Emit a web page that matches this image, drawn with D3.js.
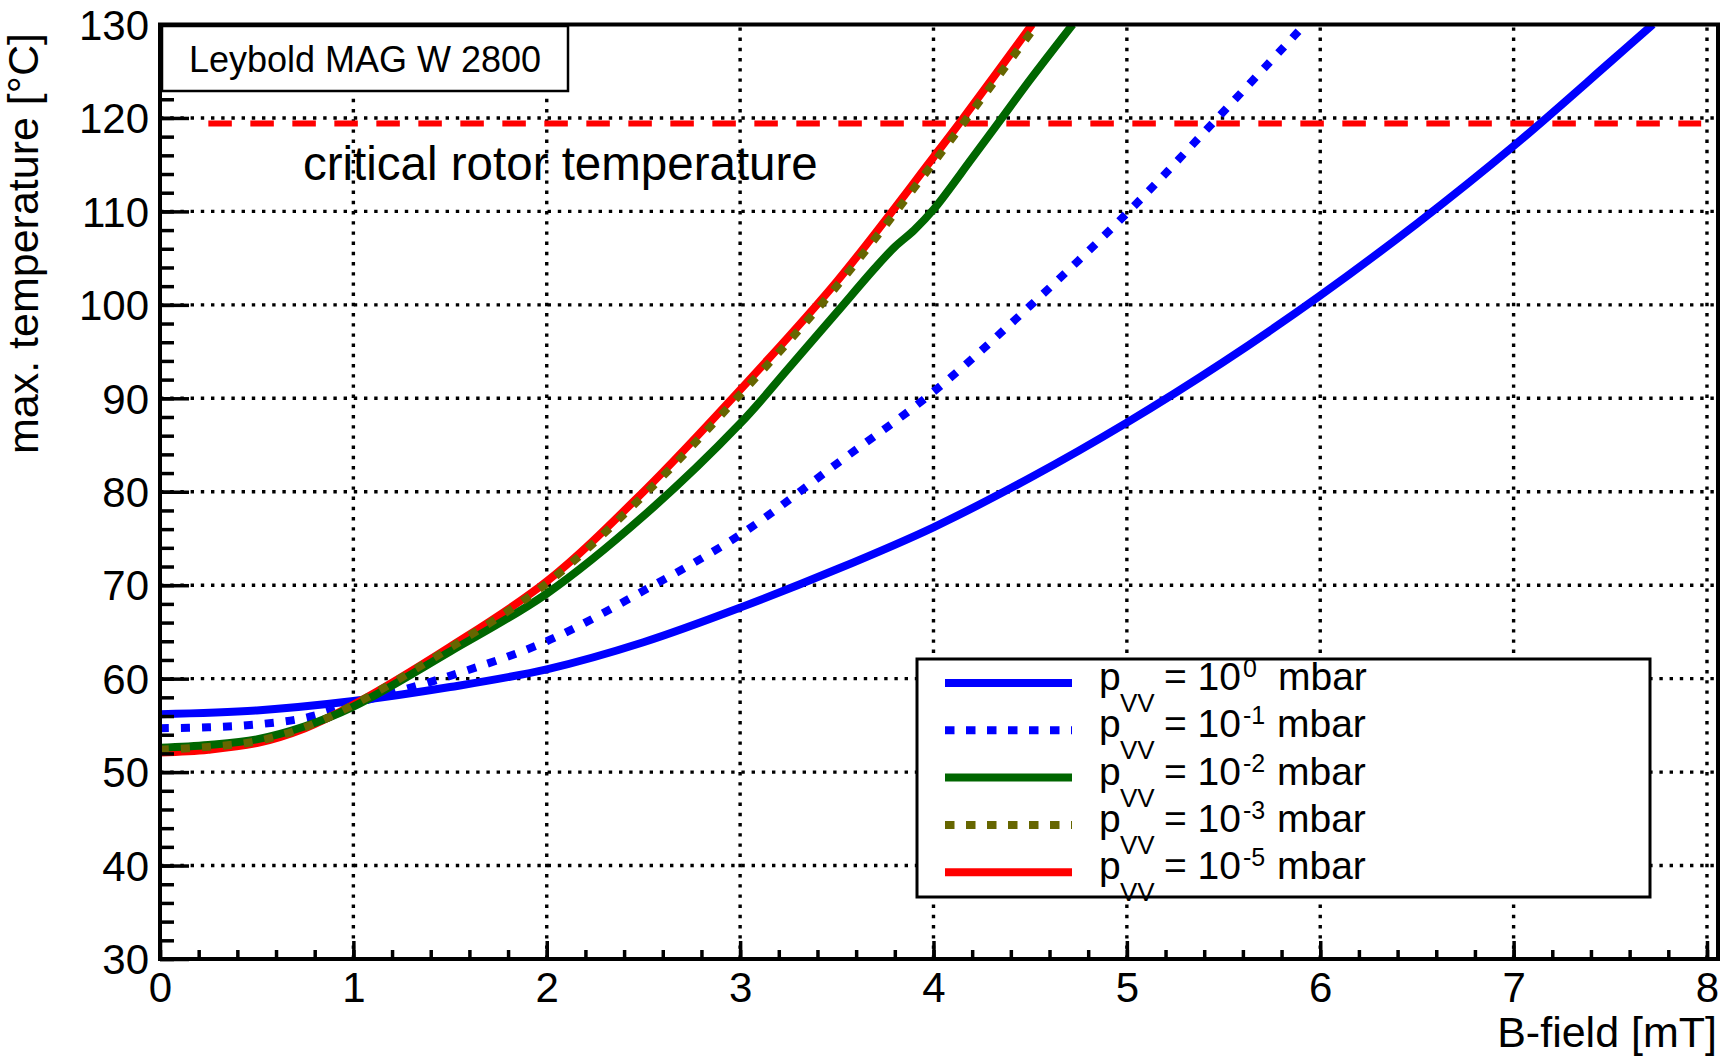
<!DOCTYPE html>
<html>
<head>
<meta charset="utf-8">
<script src="https://cdn.jsdelivr.net/npm/d3@7"></script>
<style>
  body { margin: 0; background: #fff; }
  svg text { font-family: "Liberation Sans", Arial, Helvetica, sans-serif; fill: #000; }
</style>
</head>
<body>
<svg id="chart" width="1732" height="1057"></svg>
<script>
// B-field [mT] and max. temperature [°C], one pair of arrays per pressure
const bField0 = [0, 0.5, 1, 1.5, 2, 2.5, 3, 3.5, 4, 4.5, 5, 5.5, 6, 6.5, 7, 7.5, 7.72];
const temp0   = [56.2, 56.6, 57.6, 59.1, 61.0, 63.9, 67.6, 71.7, 76.2, 81.5, 87.4, 93.9, 101.0, 108.7, 117.0, 126.0, 130];

const bField1 = [0, 0.25, 0.5, 0.75, 1, 1.5, 2, 2.5, 3, 3.5, 4, 4.5, 5, 5.46, 5.92];
const temp1   = [54.7, 54.8, 55.1, 55.8, 57.3, 60.3, 64.0, 69.4, 75.4, 83.0, 90.7, 99.9, 109.8, 119.8, 130];

const bField2 = [0, 0.25, 0.5, 0.75, 1, 1.5, 2, 2.5, 3, 3.25, 3.5, 3.7, 3.8, 3.9, 4, 4.2, 4.34, 4.5, 4.72];
const temp2   = [52.6, 52.9, 53.5, 54.9, 57.0, 62.9, 69.1, 77.4, 87.3, 93.2, 99.2, 104.0, 106.2, 108.0, 110.2, 115.7, 119.6, 124.1, 130];

const bField3 = [0, 0.25, 0.5, 0.75, 1, 1.5, 2, 2.5, 3, 3.5, 4, 4.16, 4.52];
const temp3   = [52.4, 52.7, 53.3, 54.8, 57.2, 63.3, 70.2, 79.6, 90.4, 102.0, 115.2, 119.6, 129.6];

const bField5 = [0, 0.25, 0.5, 0.75, 1, 1.5, 2, 2.5, 3, 3.5, 4, 4.14, 4.51];
const temp5   = [52.1, 52.4, 53.1, 54.7, 57.2, 63.4, 70.4, 80.0, 90.9, 102.5, 115.8, 119.6, 130];

const exponents = ["0", "-1", "-2", "-3", "-5"];
const colors = ["#0000ff", "#0000ff", "#006600", "#666600", "#ff0000"];
const dotted = [false, true, false, true, false];

const criticalB = [0.25, 7.97];
const criticalT = 119.4;

const xTicks = [0, 1, 2, 3, 4, 5, 6, 7, 8];
const yTicks = [30, 40, 50, 60, 70, 80, 90, 100, 110, 120, 130];

const series = [
  { b: bField0, t: temp0, i: 0 },
  { b: bField1, t: temp1, i: 1 },
  { b: bField5, t: temp5, i: 4 },
  { b: bField2, t: temp2, i: 2 },
  { b: bField3, t: temp3, i: 3 }
];

const L = 160, R = 1718, T = 24.5, B = 959;

const svg = d3.select('#chart');

const x = d3.scaleLinear().domain([0, 8.057]).range([L, R]);
const y = d3.scaleLinear().domain([30, 130]).range([B, T]);

svg.append('defs').append('clipPath').attr('id', 'plot')
  .append('rect').attr('x', L).attr('y', T).attr('width', R - L).attr('height', B - T);

// grid
const grid = svg.append('g').attr('stroke', '#000').attr('stroke-width', 3.4)
  .attr('stroke-dasharray', '3.4,6.8');
grid.selectAll('.gx').data(xTicks.slice(1)).join('line')
  .attr('x1', d => x(d)).attr('x2', d => x(d)).attr('y1', B).attr('y2', T);
grid.selectAll('.gy').data(yTicks.slice(1, -1)).join('line')
  .attr('x1', L).attr('x2', R).attr('y1', d => y(d)).attr('y2', d => y(d));

// critical temperature line
svg.append('line')
  .attr('x1', x(criticalB[0])).attr('x2', x(criticalB[1]))
  .attr('y1', y(criticalT)).attr('y2', y(criticalT))
  .attr('stroke', '#ff0000').attr('stroke-width', 6)
  .attr('stroke-dasharray', '23.5,18.5');

svg.append('text').attr('x', 303).attr('y', 180)
  .attr('font-size', 47.5).text('critical rotor temperature');

// curves
const line = d3.line().curve(d3.curveCatmullRom.alpha(0.5));
svg.append('g').attr('clip-path', 'url(#plot)')
  .selectAll('path').data(series).join('path')
  .attr('d', s => line(s.b.map((v, k) => [x(v), y(s.t[k])])))
  .attr('fill', 'none')
  .attr('stroke', s => colors[s.i])
  .attr('stroke-width', 8)
  .attr('stroke-dasharray', s => dotted[s.i] ? '9,12' : null);

// axes
const xAxis = svg.append('g').attr('transform', `translate(0,${B})`);
xAxis.call(d3.axisBottom(x).tickValues(d3.range(0, 8.01, 0.2)).tickSize(-9).tickFormat(''));
xAxis.append('g').call(d3.axisBottom(x).tickValues(xTicks).tickSize(-18).tickFormat(d3.format('d')));
const yAxis = svg.append('g').attr('transform', `translate(${L},0)`);
yAxis.call(d3.axisLeft(y).tickValues(d3.range(30, 130.1, 2)).tickSize(-14).tickFormat(''));
yAxis.append('g').call(d3.axisLeft(y).tickValues(yTicks).tickSize(-29).tickFormat(d3.format('d')));

svg.selectAll('.domain').remove();
svg.selectAll('.tick line').attr('stroke', '#000').attr('stroke-width', 3.5);
xAxis.selectAll('text').attr('y', 43).attr('dy', null).attr('font-size', 42);
yAxis.selectAll('text').attr('x', -11).attr('dy', '0.35em').attr('font-size', 42);
svg.selectAll('.tick text').attr('fill', '#000').attr('font-family', null);

// frame
svg.append('rect').attr('x', L).attr('y', T).attr('width', R - L).attr('height', B - T)
  .attr('fill', 'none').attr('stroke', '#000').attr('stroke-width', 4);

// axis titles
svg.append('text').attr('x', 1717).attr('y', 1047).attr('text-anchor', 'end')
  .attr('font-size', 43).text('B-field [mT]');
svg.append('text').attr('transform', 'translate(38,33) rotate(-90)').attr('text-anchor', 'end')
  .attr('font-size', 43).text('max. temperature [°C]');

// title box
svg.append('rect').attr('x', 162).attr('y', 26).attr('width', 406).attr('height', 65)
  .attr('fill', '#fff').attr('stroke', '#000').attr('stroke-width', 2.5);
svg.append('text').attr('x', 365).attr('y', 72).attr('text-anchor', 'middle')
  .attr('font-size', 36).text('Leybold MAG W 2800');

// legend
const leg = svg.append('g').attr('transform', 'translate(917,659)');
leg.append('rect').attr('width', 733).attr('height', 238)
  .attr('fill', '#fff').attr('stroke', '#000').attr('stroke-width', 3);
const rows = leg.selectAll('.row').data(exponents).join('g')
  .attr('transform', (d, k) => `translate(0,${24 + k * 47.3})`);
rows.append('line').attr('x1', 28).attr('x2', 155)
  .attr('stroke', (d, k) => colors[k]).attr('stroke-width', 8)
  .attr('stroke-dasharray', (d, k) => dotted[k] ? '9.5,11.5' : null);
rows.append('text').attr('x', 182).attr('y', 7).attr('font-size', 39).text('p');
rows.append('text').attr('x', 203).attr('y', 29).attr('font-size', 26).text('VV');
rows.append('text').attr('x', 247).attr('y', 7).attr('font-size', 39).text('= 10');
rows.append('text').attr('x', 326).attr('y', -6).attr('font-size', 25).text(d => d);
rows.append('text').attr('x', d => d === '0' ? 361 : 360).attr('y', 7).attr('font-size', 39).text('mbar');
</script>
</body>
</html>
